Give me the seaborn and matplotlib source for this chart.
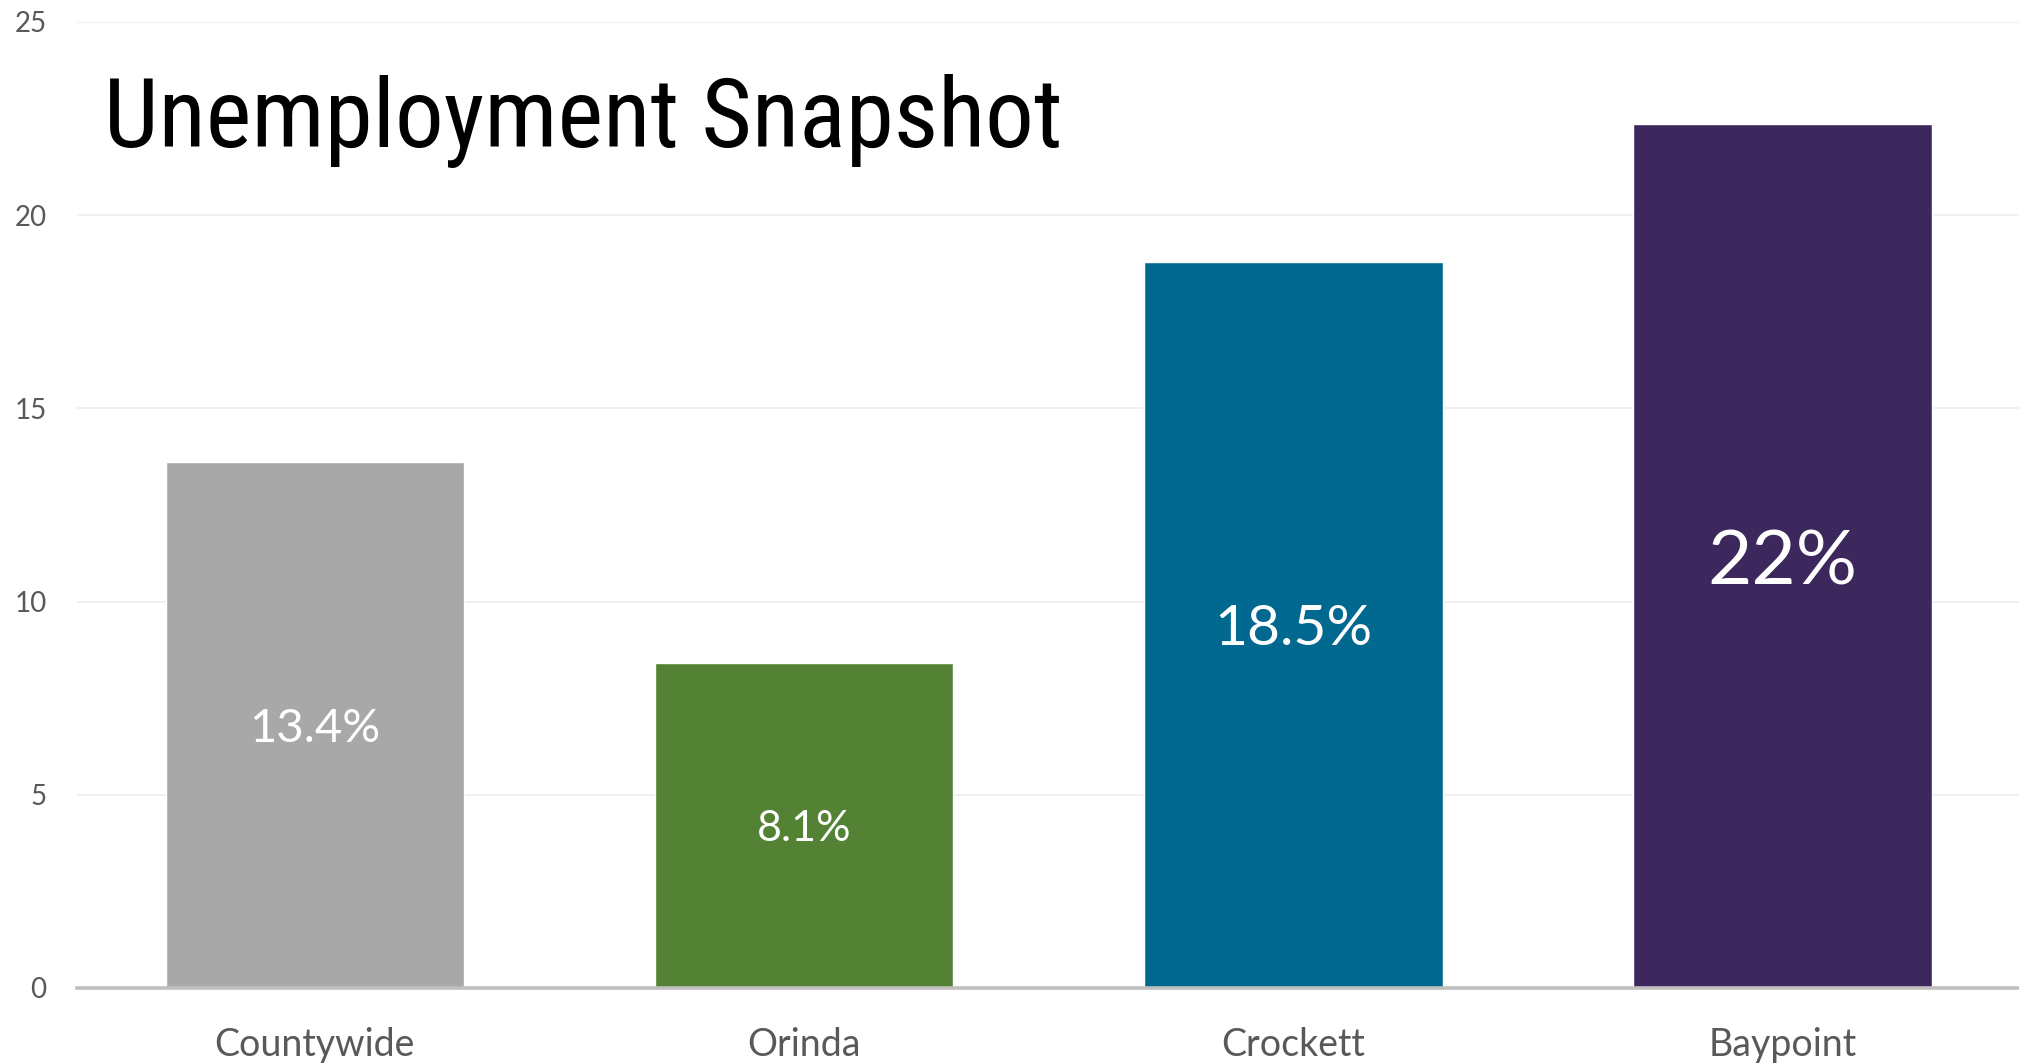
import matplotlib
matplotlib.use("Agg")
import matplotlib.pyplot as plt
from matplotlib import font_manager
import seaborn as sns
import pandas as pd

# data
areas = ["Countywide", "Orinda", "Crockett", "Baypoint"]
rates = [13.6, 8.4, 18.8, 22.35]
rate_labels = ["13.4%", "8.1%", "18.5%", "22%"]
label_sizes = [34, 31, 41, 55]
bar_colors = ["#A8A8A8", "#538234", "#01688F", "#3D285D"]
y_ticks = [0, 5, 10, 15, 20, 25]

sns.set_style("white")
plt.rcParams["font.family"] = ["Lato", "DejaVu Sans"]

# the title is in a narrow grotesque; use whatever narrow face is around
names = {f.name for f in font_manager.fontManager.ttflist}
title_kw = {"family": ["Roboto", "DejaVu Sans"], "fontsize": 68}
for cand in ["Liberation Sans Narrow", "Arial Narrow", "Roboto Condensed",
             "Open Sans Condensed"]:
    if cand in names:
        title_kw = {"family": [cand, "DejaVu Sans"], "fontsize": 70}
        break
else:
    if any(f.name == "DejaVu Sans" and f.stretch == "condensed"
           for f in font_manager.fontManager.ttflist):
        title_kw = {"family": ["DejaVu Sans"], "fontstretch": "condensed",
                    "fontsize": 68}

df = pd.DataFrame({"area": areas, "rate": rates})

fig = plt.figure(figsize=(20.19, 10.64), dpi=100)
ax = fig.add_axes([77 / 2019, 1 - 988 / 1064, 1 - 77 / 2019, (988 - 22) / 1064])

sns.barplot(data=df, x="area", y="rate", hue="area", palette=bar_colors,
            width=0.61, legend=False, ax=ax, saturation=1)

ax.set_ylim(0, 25)
ax.set_xlim(-0.486, 3.483)
ax.set_yticks(y_ticks)
ax.yaxis.grid(True, color="#EEEEEE", linewidth=1.2)
ax.set_axisbelow(True)
ax.set_xlabel("")
ax.set_ylabel("")

for side in ["top", "right", "left"]:
    ax.spines[side].set_visible(False)
ax.spines["bottom"].set_color("#BFBFBF")
ax.spines["bottom"].set_linewidth(2.6)

ax.tick_params(axis="x", length=0, pad=28, labelsize=27, labelcolor="#595959")
ax.tick_params(axis="y", length=0, pad=22, labelsize=20, labelcolor="#595959")

for i, (v, lab, fs) in enumerate(zip(rates, rate_labels, label_sizes)):
    ax.text(i, v / 2, lab, ha="center", va="center_baseline", color="white",
            fontsize=fs)

fig.text(104 / 2019, 1 - 147 / 1064, "Unemployment Snapshot",
         color="black", va="baseline", ha="left", **title_kw)

fig.savefig("out.png", dpi=100)
